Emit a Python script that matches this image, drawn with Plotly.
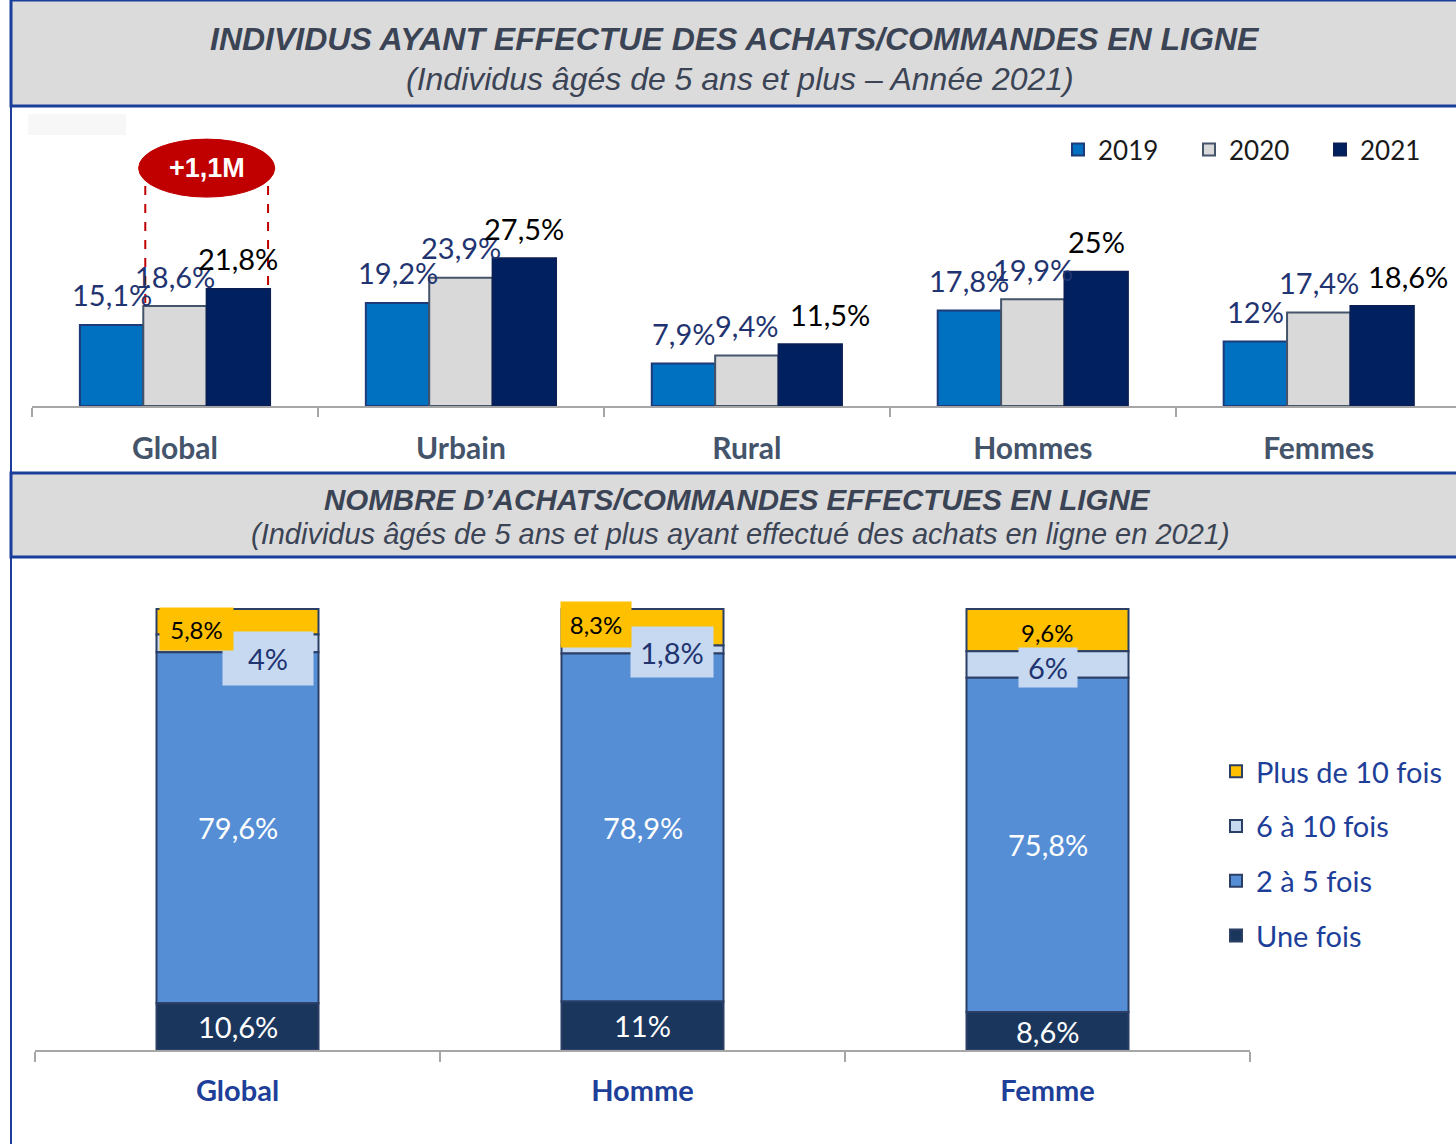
import plotly.graph_objects as go

# ---------------- DATA ----------------
top_categories = ["Global", "Urbain", "Rural", "Hommes", "Femmes"]
years = ["2019", "2020", "2021"]
vals_2019 = [15.1, 19.2, 7.9, 17.8, 12.0]
vals_2020 = [18.6, 23.9, 9.4, 19.9, 17.4]
vals_2021 = [21.8, 27.5, 11.5, 25.0, 18.6]
callout_text = "+1,1M"

bottom_categories = ["Global", "Homme", "Femme"]
segment_names = ["Une fois", "2 à 5 fois", "6 à 10 fois", "Plus de 10 fois"]
une_fois = [10.6, 11.0, 8.6]
deux_a_cinq = [79.6, 78.9, 75.8]
six_a_dix = [4.0, 1.8, 6.0]
plus_de_dix = [5.8, 8.3, 9.6]

title1 = "INDIVIDUS AYANT EFFECTUE DES ACHATS/COMMANDES EN LIGNE"
subtitle1 = "(Individus âgés de 5 ans et plus – Année 2021)"
title2 = "NOMBRE D’ACHATS/COMMANDES EFFECTUES EN LIGNE"
subtitle2 = "(Individus âgés de 5 ans et plus ayant effectué des achats en ligne en 2021)"

# ---------------- STYLE ----------------
W, H = 1456, 1144
FONT = "Lato"
TFONT = "Liberation Sans"
BORDER = "#1A3E9A"
BOXFILL = "#DBDBDB"
TITLE_COL = "#3B4455"


def px(x):
    return x / W


def py(y):
    return 1 - y / H


def fmt(v):
    return f"{v:g}".replace(".", ",") + "%"


fig = go.Figure()

# ---- top grouped bars (explicit width/offset) ----
bar_w = 0.2217
top_series = [vals_2019, vals_2020, vals_2021]
top_colors = ["#0070C0", "#D9D9D9", "#002060"]
top_lines = ["#1F3A78", "#44546A", "#0A1F55"]
label_cols = ["#1F3470", "#1F3470", "#000000"]
offsets = [-1.5 * bar_w, -0.5 * bar_w, 0.5 * bar_w]
for yr, vals, c, lc, off in zip(years, top_series, top_colors, top_lines, offsets):
    fig.add_trace(go.Bar(
        x=top_categories, y=vals, name=yr, width=bar_w, offset=off,
        marker=dict(color=c, line=dict(color=lc, width=2)),
        xaxis="x", yaxis="y", legend="legend", hoverinfo="skip"))

annotations = []
# label nudges (px) for the 2021 series where labels sit off-centre
nudge_2021 = {"Rural": 20, "Femmes": 26}
for si, (vals, col, off) in enumerate(zip(top_series, label_cols, offsets)):
    for ci, (cat, v) in enumerate(zip(top_categories, vals)):
        xs = nudge_2021.get(cat, 0) if si == 2 else 0
        annotations.append(dict(
            x=ci + off + bar_w / 2, y=v, xref="x", yref="y", text=fmt(v),
            showarrow=False, yshift=30, xshift=xs,
            font=dict(family=FONT, size=29, color=col)))

# callout ellipse and dashed lines on Global 2020 -> 2021
g_left = 0 + offsets[1]
g_right = 0 + offsets[2] + bar_w
ell_cy, ell_h, ell_w = 44.3, 10.8, 0.476
ell_cx = 0 + offsets[2]
shapes = []
shapes.append(dict(type="line", xref="x", yref="y", x0=g_left + 0.007, x1=g_left + 0.007,
                   y0=ell_cy, y1=vals_2020[0], line=dict(color="#C00000", width=2, dash="dash")))
shapes.append(dict(type="line", xref="x", yref="y", x0=g_right - 0.007, x1=g_right - 0.007,
                   y0=ell_cy, y1=vals_2021[0], line=dict(color="#C00000", width=2, dash="dash")))
shapes.append(dict(type="circle", xref="x", yref="y", x0=ell_cx - ell_w / 2, x1=ell_cx + ell_w / 2,
                   y0=ell_cy - ell_h / 2, y1=ell_cy + ell_h / 2, fillcolor="#C00000",
                   line=dict(color="#C00000", width=1)))
annotations.append(dict(x=ell_cx, y=ell_cy, xref="x", yref="y", text="<b>" + callout_text + "</b>",
                        showarrow=False, font=dict(family=TFONT, size=27, color="white")))

# ---- bottom stacked bars (manual stacking via base) ----
seg_vals = [une_fois, deux_a_cinq, six_a_dix, plus_de_dix]
seg_colors = ["#1B365D", "#558ED5", "#C6D9F1", "#FFC000"]
bases = []
running = [0.0] * len(bottom_categories)
for vals in seg_vals:
    bases.append(list(running))
    running = [r + v for r, v in zip(running, vals)]
# add in reverse so the legend lists "Plus de 10 fois" first
for name, vals, base, c in reversed(list(zip(segment_names, seg_vals, bases, seg_colors))):
    fig.add_trace(go.Bar(
        x=bottom_categories, y=vals, base=base, name=name, width=0.4, offset=-0.2,
        marker=dict(color=c, line=dict(color="#2B3F66", width=2)),
        xaxis="x2", yaxis="y2", legend="legend2", legendgroup=name, hoverinfo="skip"))

# bottom labels
label_style = [
    dict(color="white", size=29, bg=None),
    dict(color="white", size=29, bg=None),
    dict(color="#1F3470", size=29, bg="#C6D9F1"),
    dict(color="#000000", size=24, bg="#FFC000"),
]
# per-label placement tweaks (xshift, yshift px, box w, box h)
tweaks = {
    (2, 0): (30, -15, 88, 51), (2, 1): (29, -2, 80, 48), (2, 2): (0, -3, 56, 37),
    (3, 0): (-41, -7, 71, 40), (3, 1): (-47, 3, 68, 43), (3, 2): (0, -2, None, None),
}
for si, (vals, base) in enumerate(zip(seg_vals, bases)):
    st = label_style[si]
    for ci, (v, b) in enumerate(zip(vals, base)):
        xs, ys, bw, bh = tweaks.get((si, ci), (0, 0, None, None))
        a = dict(x=ci, y=b + v / 2, xref="x2", yref="y2", text=fmt(v), showarrow=False,
                 xshift=xs, yshift=ys, font=dict(family=FONT, size=st["size"], color=st["color"]))
        if st["bg"] and bw:
            a.update(bgcolor=st["bg"], width=bw, height=bh)
        annotations.append(a)

# ---- title boxes ----
for (y0, y1) in [(0, 106), (473, 557)]:
    shapes.append(dict(type="rect", xref="paper", yref="paper", x0=px(11), x1=px(W + 5),
                       y0=py(y1), y1=py(y0), fillcolor=BOXFILL, line=dict(color=BORDER, width=3),
                       layer="below"))
shapes.append(dict(type="line", xref="paper", yref="paper", x0=px(11), x1=px(11), y0=0, y1=1,
                   line=dict(color=BORDER, width=2)))
shapes.append(dict(type="rect", xref="paper", yref="paper", x0=px(28), x1=px(126),
                   y0=py(135), y1=py(114), fillcolor="#F7F7F7", line=dict(width=0), layer="below"))

annotations += [
    dict(x=px(735), y=py(19), xref="paper", yref="paper", text="<b><i>" + title1 + "</i></b>",
         showarrow=False, font=dict(family=TFONT, size=32, color=TITLE_COL)),
    dict(x=px(740), y=py(59), xref="paper", yref="paper", text="<i>" + subtitle1 + "</i>",
         showarrow=False, font=dict(family=TFONT, size=32, color=TITLE_COL)),
    dict(x=px(737), y=py(499), xref="paper", yref="paper", text="<b><i>" + title2 + "</i></b>",
         showarrow=False, font=dict(family=TFONT, size=29.5, color=TITLE_COL)),
    dict(x=px(740), y=py(534), xref="paper", yref="paper", text="<i>" + subtitle2 + "</i>",
         showarrow=False, font=dict(family=TFONT, size=29, color=TITLE_COL)),
]

fig.update_layout(
    width=W, height=H, margin=dict(l=0, r=0, t=0, b=0, autoexpand=False),
    paper_bgcolor="white", plot_bgcolor="rgba(0,0,0,0)",
    barmode="overlay", showlegend=True,
    xaxis=dict(domain=[px(32), 1.0], range=[-0.5, 4.48], type="category",
               categoryorder="array", categoryarray=top_categories,
               showline=True, linecolor="#A6A6A6", linewidth=2,
               ticks="outside", tickson="boundaries", ticklen=9, tickcolor="#A6A6A6", tickwidth=1.5,
               ticklabelstandoff=15,
               tickfont=dict(family=FONT, size=30, color="#44546A", weight="bold"),
               showgrid=False, zeroline=False, fixedrange=True),
    yaxis=dict(domain=[py(406), py(120)], range=[0, 53.26], visible=False, fixedrange=True),
    xaxis2=dict(domain=[px(35), px(1250)], range=[-0.5, 2.5], type="category",
                categoryorder="array", categoryarray=bottom_categories, anchor="y2",
                showline=True, linecolor="#A6A6A6", linewidth=2,
                ticks="outside", tickson="boundaries", ticklen=10, tickcolor="#A6A6A6", tickwidth=1.5,
                ticklabelstandoff=14,
                tickfont=dict(family=FONT, size=29, color="#1E3F99", weight="bold"),
                showgrid=False, zeroline=False, fixedrange=True),
    yaxis2=dict(domain=[py(1050), py(580)], range=[0, 106.58], visible=False, anchor="x2",
                fixedrange=True),
    legend=dict(orientation="h", x=px(1058), y=py(126), xanchor="left", yanchor="top",
                font=dict(family=FONT, size=26, color="#1A1A1A"), entrywidth=86,
                bgcolor="rgba(0,0,0,0)"),
    legend2=dict(orientation="v", x=px(1216), y=py(746), xanchor="left", yanchor="top",
                 font=dict(family=FONT, size=29, color="#1E3F99"), traceorder="grouped",
                 tracegroupgap=14, bgcolor="rgba(0,0,0,0)"),
    shapes=shapes, annotations=annotations,
)

fig.write_html("out.html", config={"displayModeBar": False},
               post_script="document.body.style.margin='0px';")
